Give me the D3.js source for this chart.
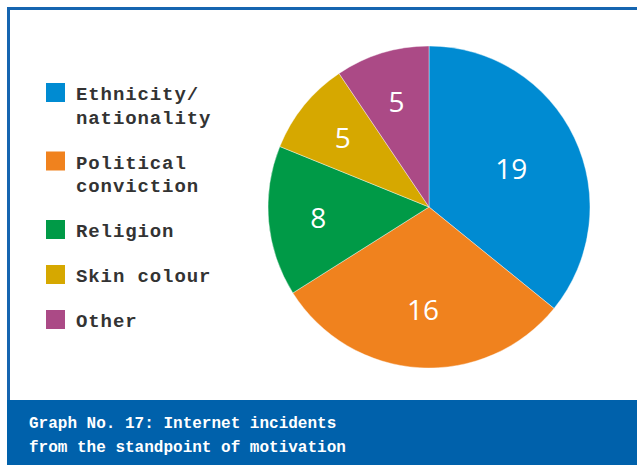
<!DOCTYPE html>
<html>
<head>
<meta charset="utf-8">
<script src="https://cdn.jsdelivr.net/npm/d3@7"></script>
<style>
  html, body { margin: 0; padding: 0; background: #ffffff; }
  svg { display: block; }
</style>
</head>
<body>
<svg id="chart" width="637" height="465"></svg>
<script>
const categories = ["Ethnicity/\nnationality", "Political\nconviction", "Religion", "Skin colour", "Other"];
const values = [19, 16, 8, 5, 5];
const colors = ["#008bd2", "#f0821e", "#009a47", "#d6a800", "#ab4a86"];
const captionLines = ["Graph No. 17: Internet incidents", "from the standpoint of motivation"];

const svg = d3.select("#chart");
const W = 637, H = 465;

// frame
svg.append("rect").attr("x", 8.5).attr("y", 8.5).attr("width", W).attr("height", H)
  .attr("fill", "#ffffff").attr("stroke", "#1565b0").attr("stroke-width", 3);

// caption band
svg.append("rect").attr("x", 7).attr("y", 400).attr("width", W - 7).attr("height", H - 400)
  .attr("fill", "#0061ab");
svg.append("g").selectAll("text").data(captionLines).join("text")
  .attr("x", 29).attr("y", (d, i) => 428 + i * 24)
  .attr("fill", "#ffffff")
  .attr("font-family", "'Liberation Mono', monospace")
  .attr("font-size", 16)
  .attr("font-weight", "bold")
  .text(d => d);

// pie
const cx = 429, cy = 207, r = 161;
const pie = d3.pie().sort(null).value(d => d)(values);
const arc = d3.arc().innerRadius(0).outerRadius(r);
const labelArc = d3.arc().innerRadius(r * 0.69).outerRadius(r * 0.69);
const g = svg.append("g").attr("transform", `translate(${cx},${cy})`);
g.selectAll("path").data(pie).join("path")
  .attr("d", arc)
  .attr("fill", (d, i) => colors[i])
  .attr("stroke", "#ffffff").attr("stroke-width", 0.4);
g.selectAll("text").data(pie).join("text")
  .attr("transform", d => {
    const c = labelArc.centroid(d);
    // larger slices get labels slightly closer to center
    const k = d.value > 15 ? (d.value > 18 ? 0.82 : 0.92) : 1;
    return `translate(${c[0] * k},${c[1] * k})`;
  })
  .attr("text-anchor", "middle")
  .attr("dominant-baseline", "central")
  .attr("fill", "#ffffff")
  .attr("font-family", "'Open Sans', sans-serif")
  .attr("font-size", 28)
  .text(d => d.value);

// legend
const legend = svg.append("g");
let baseline = 100;
categories.forEach((c, i) => {
  const lines = c.split("\n");
  legend.append("rect").attr("x", 46).attr("y", baseline - 17).attr("width", 19).attr("height", 19)
    .attr("fill", colors[i]);
  const t = legend.append("text")
    .attr("x", 76).attr("y", baseline)
    .attr("fill", "#333333")
    .attr("font-family", "'Liberation Mono', monospace")
    .attr("font-size", 19)
    .attr("font-weight", "bold")
    .attr("letter-spacing", 0.9);
  lines.forEach((l, j) => {
    t.append("tspan").attr("x", 76).attr("dy", j === 0 ? 0 : 23.5).text(l);
  });
  baseline += 45 + 23.5 * (lines.length - 1);
});
</script>
</body>
</html>
